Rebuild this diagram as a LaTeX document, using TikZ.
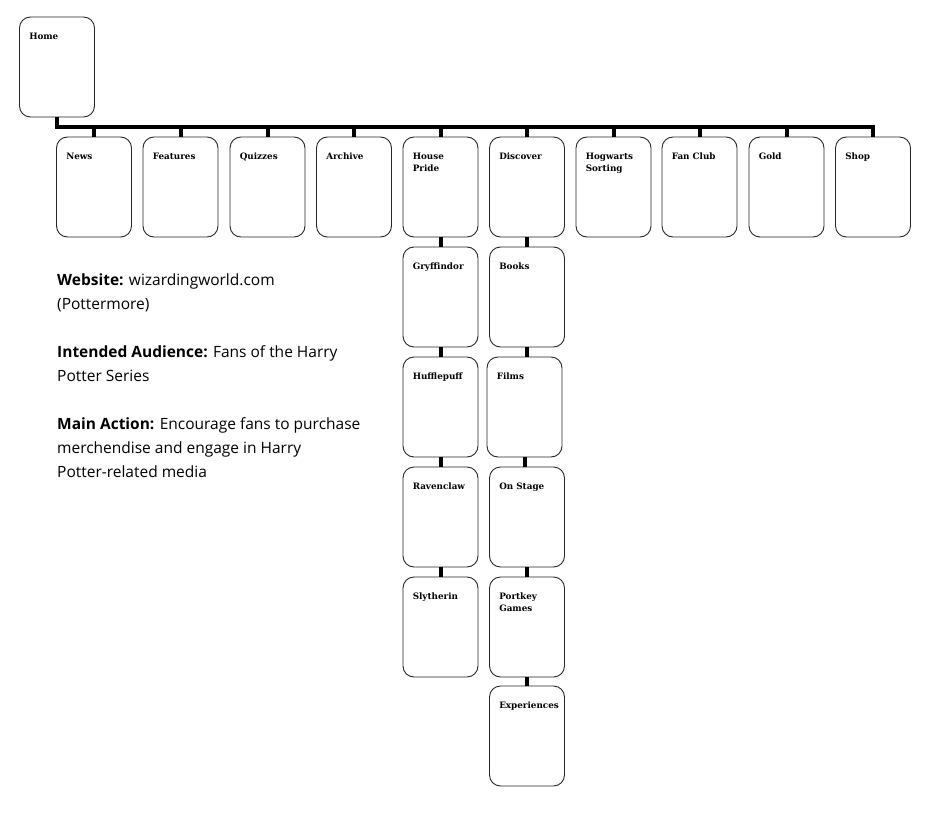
\documentclass[tikz,border=0pt]{standalone}
\usepackage{fontspec}
\setmainfont{Open Sans}
\newfontfamily\boxfont{DejaVu Serif}
\usetikzlibrary{positioning}
\tikzset{
  boxlabel/.style={anchor=north west,xshift=10pt,yshift=-16pt,inner sep=0pt,align=left,
    font=\boxfont\bfseries\fontsize{8.8}{12}\selectfont},
  pagebox/.style={draw=black!85,line width=0.9pt,rounded corners=11pt,minimum width=75pt,
    minimum height=100pt,inner sep=0pt,label={[boxlabel]north west:#1}},
  link/.style={line width=4pt,black}
}
\begin{document}
\begin{tikzpicture}[x=1pt,y=-1pt]
\useasboundingbox (0,0) rectangle (928,813);
\node[pagebox=Home] (home) at (57,67) {};
\foreach \x/\n/\t in {94/news/News,180.5/feat/Features,267.5/quiz/Quizzes,354/arch/Archive,
  440.5/pride/{House\\Pride},527/disc/Discover,613.5/sort/{Hogwarts\\Sorting},699.5/fan/Fan Club,
  786.5/gold/Gold,873/shop/Shop}
  \node[pagebox=\t] (\n) at (\x,187) {};
\foreach \y/\n/\t in {297/gryf/Gryffindor,407/huff/Hufflepuff,517/rave/Ravenclaw,627/slyt/Slytherin}
  \node[pagebox=\t] (\n) at (440.5,\y) {};
\foreach \x/\y/\n/\t in {527/297/books/Books,524.5/407/films/Films,527/517/stage/On Stage,
  527/627/port/{Portkey\\Games},527/736/exp/Experiences}
  \node[pagebox=\t] (\n) at (\x,\y) {};
\coordinate (bar) at (0,127);
\draw[link] (home.south) |- (bar -| shop.north) -- (shop.north);
\foreach \n in {news,feat,quiz,arch,pride,disc,sort,fan,gold}
  \draw[link] (bar -| \n.north) -- (\n.north);
\foreach \a/\b in {pride/gryf,gryf/huff,huff/rave,rave/slyt,disc/books,books/films,films/stage,stage/port,port/exp}
  \draw[link] (\a.south) -- (\a.south |- \b.north);
\node[anchor=north west,inner sep=0pt,align=left,font=\fontsize{15.5}{24}\selectfont] (info) at (57,274)
  {\textbf{Website:} wizardingworld.com\\(Pottermore)\\[24pt]
   \textbf{Intended Audience:} Fans of the Harry\\Potter Series\\[24pt]
   \textbf{Main Action:} Encourage fans to purchase\\merchendise and engage in Harry\\Potter-related media};
\end{tikzpicture}
\end{document}
